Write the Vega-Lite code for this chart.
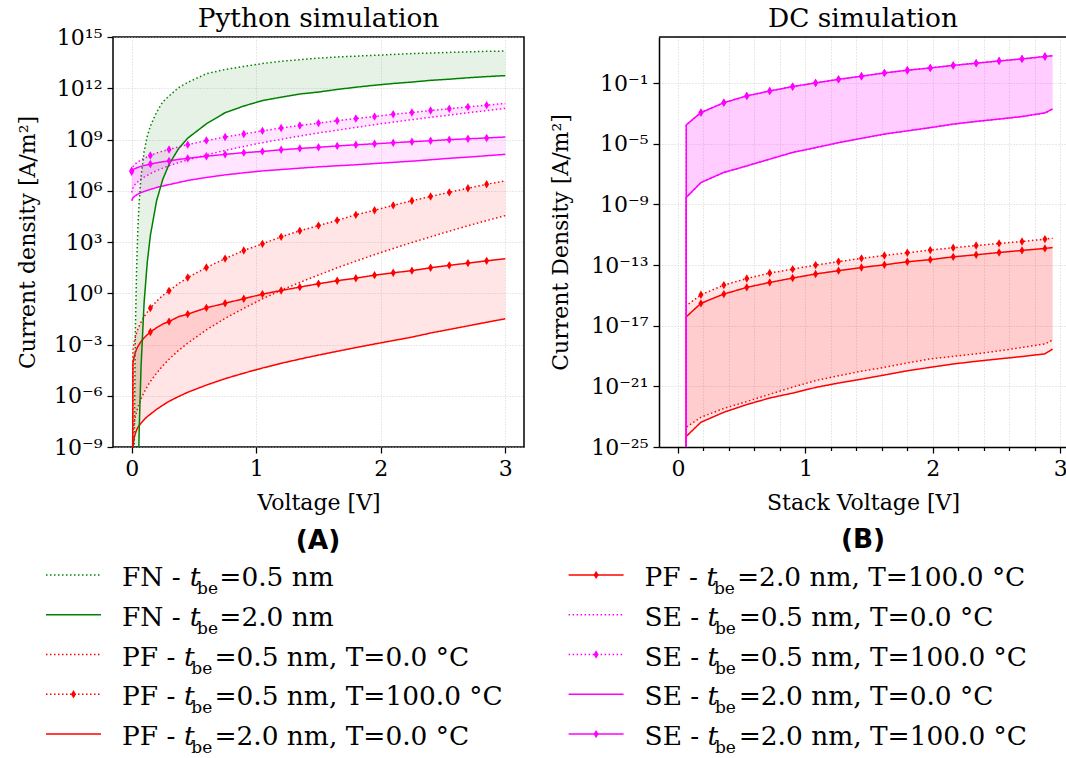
{
  "$schema": "https://vega.github.io/schema/vega-lite/v6.json",
  "background": "white",
  "padding": {"left": 15, "top": 5, "right": 0, "bottom": 0},
  "config": {
    "font": "DejaVu Serif",
    "view": {"stroke": null},
    "axis": {
      "labelFont": "DejaVu Serif", "titleFont": "DejaVu Serif",
      "labelFontSize": 22, "titleFontSize": 22, "titleFontWeight": "normal",
      "labelColor": "black", "titleColor": "black",
      "tickColor": "black", "tickWidth": 1.25, "tickSize": 6, "labelPadding": 5,
      "domainColor": "black", "domainWidth": 1.5,
      "gridColor": "#c8c8c8", "gridDash": [1, 2], "gridWidth": 0.8,
      "labelFlush": false, "labelOverlap": false, "labelBound": false
    },
    "title": {"font": "DejaVu Serif", "fontWeight": "normal", "color": "black"}
  },
  "datasets": {
    "python": [
      {"V":0,"FN_05":null,"FN_20":null,"PF05_0":1e-30,"PF05_100":1e-30,"PF20_0":1e-30,"PF20_100":1e-30,"SE05_0":7.9e5,"SE05_100":1.5e7,"SE20_0":2.6e5,"SE20_100":1.3e7},
      {"V":0.01,"FN_05":1.6e-32,"FN_20":2.5e-99,"PF05_0":7.2e-9,"PF05_100":4.4e-4,"PF20_0":1e-9,"PF20_100":8.1e-5,"SE05_0":1.5e6,"SE05_100":2.6e7,"SE20_0":3.8e5,"SE20_100":1.7e7},
      {"V":0.02,"FN_05":3.2e-10,"FN_20":2.5e-45,"PF05_0":2.6e-8,"PF05_100":1.35e-3,"PF20_0":3.5e-9,"PF20_100":2.0e-4,"SE05_0":2.0e6,"SE05_100":3.2e7,"SE20_0":4.5e5,"SE20_100":1.9e7},
      {"V":0.03,"FN_05":8.5e-3,"FN_20":3e-27,"PF05_0":6.2e-8,"PF05_100":2.8e-3,"PF20_0":6.3e-9,"PF20_100":3.5e-4,"SE05_0":2.5e6,"SE05_100":3.7e7,"SE20_0":5.1e5,"SE20_100":2.0e7},
      {"V":0.04,"FN_05":42,"FN_20":5e-18,"PF05_0":1.2e-7,"PF05_100":5.0e-3,"PF20_0":1e-8,"PF20_100":5.5e-4,"SE05_0":2.9e6,"SE05_100":4.3e7,"SE20_0":5.8e5,"SE20_100":2.2e7},
      {"V":0.05,"FN_05":7.1e3,"FN_20":1.6e-12,"PF05_0":2.1e-7,"PF05_100":8.1e-3,"PF20_0":1.4e-8,"PF20_100":7.6e-4,"SE05_0":3.4e6,"SE05_100":4.9e7,"SE20_0":6.3e5,"SE20_100":2.3e7},
      {"V":0.06,"FN_05":2.1e5,"FN_20":8.1e-9,"PF05_0":3.5e-7,"PF05_100":1.2e-2,"PF20_0":1.8e-8,"PF20_100":1.0e-3,"SE05_0":4.0e6,"SE05_100":5.5e7,"SE20_0":6.9e5,"SE20_100":2.5e7},
      {"V":0.075,"FN_05":6.5e6,"FN_20":4.6e-5,"PF05_0":6.6e-7,"PF05_100":2.0e-2,"PF20_0":2.5e-8,"PF20_100":1.5e-3,"SE05_0":4.8e6,"SE05_100":6.3e7,"SE20_0":7.8e5,"SE20_100":2.7e7},
      {"V":0.1,"FN_05":2.0e8,"FN_20":0.3,"PF05_0":1.6e-6,"PF05_100":4.3e-2,"PF20_0":4e-8,"PF20_100":2.5e-3,"SE05_0":6.3e6,"SE05_100":7.9e7,"SE20_0":9.1e5,"SE20_100":3.0e7},
      {"V":0.125,"FN_05":1.55e9,"FN_20":63,"PF05_0":3.5e-6,"PF05_100":7.9e-2,"PF20_0":6e-8,"PF20_100":3.7e-3,"SE05_0":7.9e6,"SE05_100":9.5e7,"SE20_0":1.05e6,"SE20_100":3.3e7},
      {"V":0.15,"FN_05":6.0e9,"FN_20":2.4e3,"PF05_0":6.8e-6,"PF05_100":0.135,"PF20_0":8.3e-8,"PF20_100":5.4e-3,"SE05_0":1.0e7,"SE05_100":1.15e8,"SE20_0":1.2e6,"SE20_100":3.7e7},
      {"V":0.2,"FN_05":4.0e10,"FN_20":2.6e5,"PF05_0":2.1e-5,"PF05_100":0.34,"PF20_0":1.6e-7,"PF20_100":9.6e-3,"SE05_0":1.5e7,"SE05_100":1.6e8,"SE20_0":1.55e6,"SE20_100":4.3e7},
      {"V":0.25,"FN_05":1.6e11,"FN_20":4.7e6,"PF05_0":5.7e-5,"PF05_100":0.74,"PF20_0":2.8e-7,"PF20_100":1.6e-2,"SE05_0":2.1e7,"SE05_100":2.1e8,"SE20_0":1.9e6,"SE20_100":5.0e7},
      {"V":0.3,"FN_05":3.5e11,"FN_20":3.5e7,"PF05_0":1.38e-4,"PF05_100":1.38,"PF20_0":4.7e-7,"PF20_100":2.2e-2,"SE05_0":2.9e7,"SE05_100":2.6e8,"SE20_0":2.3e6,"SE20_100":5.6e7},
      {"V":0.375,"FN_05":1.07e12,"FN_20":2.8e8,"PF05_0":4.4e-4,"PF05_100":3.6,"PF20_0":8.9e-7,"PF20_100":4.2e-2,"SE05_0":4.4e7,"SE05_100":3.7e8,"SE20_0":3.0e6,"SE20_100":6.8e7},
      {"V":0.45,"FN_05":2.2e12,"FN_20":1.2e9,"PF05_0":1.2e-3,"PF05_100":8.3,"PF20_0":1.6e-6,"PF20_100":6.0e-2,"SE05_0":6.4e7,"SE05_100":5.0e8,"SE20_0":4.0e6,"SE20_100":7.9e7},
      {"V":0.6,"FN_05":7.1e12,"FN_20":8.3e9,"PF05_0":7.2e-3,"PF05_100":32,"PF20_0":4.2e-6,"PF20_100":0.14,"SE05_0":1.26e8,"SE05_100":8.7e8,"SE20_0":6.0e6,"SE20_100":1.05e8},
      {"V":0.75,"FN_05":1.26e13,"FN_20":3.7e10,"PF05_0":3.4e-2,"PF05_100":107,"PF20_0":1e-5,"PF20_100":0.26,"SE05_0":2.3e8,"SE05_100":1.4e9,"SE20_0":8.5e6,"SE20_100":1.35e8},
      {"V":0.9,"FN_05":1.9e13,"FN_20":9.1e10,"PF05_0":0.13,"PF05_100":320,"PF20_0":2.1e-5,"PF20_100":0.48,"SE05_0":3.9e8,"SE05_100":2.1e9,"SE20_0":1.12e7,"SE20_100":1.7e8},
      {"V":1.05,"FN_05":2.8e13,"FN_20":1.9e11,"PF05_0":0.47,"PF05_100":780,"PF20_0":4.2e-5,"PF20_100":0.89,"SE05_0":6.5e8,"SE05_100":3.2e9,"SE20_0":1.45e7,"SE20_100":2.0e8},
      {"V":1.2,"FN_05":3.8e13,"FN_20":3.0e11,"PF05_0":1.5,"PF05_100":2.0e3,"PF20_0":7.9e-5,"PF20_100":1.45,"SE05_0":1.02e9,"SE05_100":4.7e9,"SE20_0":1.74e7,"SE20_100":2.5e8},
      {"V":1.35,"FN_05":4.7e13,"FN_20":4.6e11,"PF05_0":4.3,"PF05_100":4.5e3,"PF20_0":1.4e-4,"PF20_100":2.3,"SE05_0":1.6e9,"SE05_100":6.6e9,"SE20_0":2.1e7,"SE20_100":3.0e8},
      {"V":1.5,"FN_05":5.8e13,"FN_20":6.0e11,"PF05_0":11.7,"PF05_100":9.1e3,"PF20_0":2.4e-4,"PF20_100":3.6,"SE05_0":2.4e9,"SE05_100":9.1e9,"SE20_0":2.5e7,"SE20_100":3.5e8},
      {"V":1.65,"FN_05":6.8e13,"FN_20":8.5e11,"PF05_0":31,"PF05_100":1.86e4,"PF20_0":4e-4,"PF20_100":5.4,"SE05_0":3.5e9,"SE05_100":1.26e10,"SE20_0":2.9e7,"SE20_100":4.2e8},
      {"V":1.8,"FN_05":7.6e13,"FN_20":1.15e12,"PF05_0":76,"PF05_100":3.9e4,"PF20_0":6.6e-4,"PF20_100":7.6,"SE05_0":5.1e9,"SE05_100":1.7e10,"SE20_0":3.3e7,"SE20_100":4.9e8},
      {"V":1.95,"FN_05":8.5e13,"FN_20":1.5e12,"PF05_0":182,"PF05_100":7.2e4,"PF20_0":1.07e-3,"PF20_100":11.5,"SE05_0":7.4e9,"SE05_100":2.2e10,"SE20_0":3.9e7,"SE20_100":5.6e8},
      {"V":2.1,"FN_05":9.5e13,"FN_20":1.9e12,"PF05_0":420,"PF05_100":1.4e5,"PF20_0":1.7e-3,"PF20_100":15.8,"SE05_0":1.05e10,"SE05_100":3.0e10,"SE20_0":4.6e7,"SE20_100":6.5e8},
      {"V":2.25,"FN_05":1.07e14,"FN_20":2.3e12,"PF05_0":930,"PF05_100":2.6e5,"PF20_0":2.7e-3,"PF20_100":21,"SE05_0":1.45e10,"SE05_100":3.8e10,"SE20_0":5.4e7,"SE20_100":7.4e8},
      {"V":2.4,"FN_05":1.15e14,"FN_20":2.9e12,"PF05_0":2.0e3,"PF05_100":4.6e5,"PF20_0":4.7e-3,"PF20_100":31,"SE05_0":2.0e10,"SE05_100":5.0e10,"SE20_0":6.5e7,"SE20_100":8.5e8},
      {"V":2.55,"FN_05":1.26e14,"FN_20":3.4e12,"PF05_0":4.3e3,"PF05_100":8.1e5,"PF20_0":7.6e-3,"PF20_100":43,"SE05_0":2.7e10,"SE05_100":6.3e10,"SE20_0":7.9e7,"SE20_100":9.8e8},
      {"V":2.7,"FN_05":1.35e14,"FN_20":4.1e12,"PF05_0":8.9e3,"PF05_100":1.4e6,"PF20_0":1.23e-2,"PF20_100":58,"SE05_0":3.7e10,"SE05_100":8.1e10,"SE20_0":9.3e7,"SE20_100":1.1e9},
      {"V":2.85,"FN_05":1.45e14,"FN_20":4.8e12,"PF05_0":1.8e4,"PF05_100":2.4e6,"PF20_0":2e-2,"PF20_100":79,"SE05_0":4.9e10,"SE05_100":1.02e11,"SE20_0":1.12e8,"SE20_100":1.23e9},
      {"V":3.0,"FN_05":1.5e14,"FN_20":5.5e12,"PF05_0":3.5e4,"PF05_100":3.8e6,"PF20_0":3.2e-2,"PF20_100":105,"SE05_0":6.6e10,"SE05_100":1.3e11,"SE20_0":1.35e8,"SE20_100":1.4e9}
    ],
    "dc": [
      {"V":0.0649,"PF05_0":1e-30,"PF05_100":1e-30,"PF20_0":1e-30,"PF20_100":1e-30,"SE05_0":1e-30,"SE05_100":1e-30,"SE20_0":1e-30,"SE20_100":1e-30},
      {"V":0.065,"PF05_0":2.0e-24,"PF05_100":2.1e-16,"PF20_0":5.0e-25,"PF20_100":3.9e-17,"SE05_0":2.9e-9,"SE05_100":1.8e-4,"SE20_0":2.9e-9,"SE20_100":1.8e-4},
      {"V":0.18,"PF05_0":9.1e-24,"PF05_100":1.1e-15,"PF20_0":4.3e-24,"PF20_100":3.0e-16,"SE05_0":2.8e-8,"SE05_100":1.15e-3,"SE20_0":2.8e-8,"SE20_100":1.15e-3},
      {"V":0.36,"PF05_0":3.5e-23,"PF05_100":4.8e-15,"PF20_0":1.95e-23,"PF20_100":1.23e-15,"SE05_0":1.3e-7,"SE05_100":5.2e-3,"SE20_0":1.3e-7,"SE20_100":5.2e-3},
      {"V":0.54,"PF05_0":1.0e-22,"PF05_100":1.3e-14,"PF20_0":6.3e-23,"PF20_100":3.4e-15,"SE05_0":3.5e-7,"SE05_100":1.45e-2,"SE20_0":3.5e-7,"SE20_100":1.45e-2},
      {"V":0.72,"PF05_0":3.0e-22,"PF05_100":3.0e-14,"PF20_0":1.7e-22,"PF20_100":7.2e-15,"SE05_0":9.8e-7,"SE05_100":3.1e-2,"SE20_0":9.8e-7,"SE20_100":3.1e-2},
      {"V":0.9,"PF05_0":8.9e-22,"PF05_100":5.4e-14,"PF20_0":3.6e-22,"PF20_100":1.4e-14,"SE05_0":2.7e-6,"SE05_100":6.0e-2,"SE20_0":2.7e-6,"SE20_100":6.0e-2},
      {"V":1.08,"PF05_0":2.4e-21,"PF05_100":1.0e-13,"PF20_0":8.5e-22,"PF20_100":2.6e-14,"SE05_0":5.6e-6,"SE05_100":0.105,"SE20_0":5.6e-6,"SE20_100":0.105},
      {"V":1.26,"PF05_0":5.0e-21,"PF05_100":1.7e-13,"PF20_0":1.66e-21,"PF20_100":4.3e-14,"SE05_0":1.2e-5,"SE05_100":0.18,"SE20_0":1.2e-5,"SE20_100":0.18},
      {"V":1.44,"PF05_0":1.0e-20,"PF05_100":2.8e-13,"PF20_0":3.0e-21,"PF20_100":6.9e-14,"SE05_0":2.3e-5,"SE05_100":0.29,"SE20_0":2.3e-5,"SE20_100":0.29},
      {"V":1.62,"PF05_0":1.8e-20,"PF05_100":4.3e-13,"PF20_0":5.6e-21,"PF20_100":1.05e-13,"SE05_0":4.4e-5,"SE05_100":0.48,"SE20_0":4.4e-5,"SE20_100":0.48},
      {"V":1.8,"PF05_0":3.5e-20,"PF05_100":6.5e-13,"PF20_0":1.07e-20,"PF20_100":1.66e-13,"SE05_0":7.2e-5,"SE05_100":0.72,"SE20_0":7.2e-5,"SE20_100":0.72},
      {"V":1.98,"PF05_0":6.5e-20,"PF05_100":9.8e-13,"PF20_0":1.8e-20,"PF20_100":2.3e-13,"SE05_0":1.17e-4,"SE05_100":1.02,"SE20_0":1.17e-4,"SE20_100":1.02},
      {"V":2.16,"PF05_0":9.5e-20,"PF05_100":1.4e-12,"PF20_0":3.0e-20,"PF20_100":3.5e-13,"SE05_0":2.0e-4,"SE05_100":1.5,"SE20_0":2.0e-4,"SE20_100":1.5},
      {"V":2.34,"PF05_0":1.4e-19,"PF05_100":1.95e-12,"PF20_0":4.5e-20,"PF20_100":4.8e-13,"SE05_0":3.0e-4,"SE05_100":2.1,"SE20_0":3.0e-4,"SE20_100":2.1},
      {"V":2.52,"PF05_0":2.2e-19,"PF05_100":2.7e-12,"PF20_0":6.5e-20,"PF20_100":6.8e-13,"SE05_0":4.3e-4,"SE05_100":2.95,"SE20_0":4.3e-4,"SE20_100":2.95},
      {"V":2.7,"PF05_0":3.7e-19,"PF05_100":3.6e-12,"PF20_0":9.3e-20,"PF20_100":9.3e-13,"SE05_0":6.3e-4,"SE05_100":4.0,"SE20_0":6.3e-4,"SE20_100":4.0},
      {"V":2.88,"PF05_0":6.3e-19,"PF05_100":5.2e-12,"PF20_0":1.4e-19,"PF20_100":1.26e-12,"SE05_0":1.1e-3,"SE05_100":5.8,"SE20_0":1.1e-3,"SE20_100":5.8},
      {"V":2.94,"PF05_0":1.15e-18,"PF05_100":6.0e-12,"PF20_0":2.9e-19,"PF20_100":1.45e-12,"SE05_0":2.0e-3,"SE05_100":6.5,"SE20_0":2.0e-3,"SE20_100":6.5}
    ],
    "frame": [
      {"V": -0.149, "J": 112},
      {"V": 3.053, "J": 112}
    ],
    "entries": [
      {"key":"FN_05","model":"FN","rest":"=0.5 nm","i":0},
      {"key":"FN_20","model":"FN","rest":"=2.0 nm","i":1},
      {"key":"PF05_0","model":"PF","rest":"=0.5 nm, T=0.0 °C","i":2},
      {"key":"PF05_100","model":"PF","rest":"=0.5 nm, T=100.0 °C","i":3},
      {"key":"PF20_0","model":"PF","rest":"=2.0 nm, T=0.0 °C","i":4},
      {"key":"PF20_100","model":"PF","rest":"=2.0 nm, T=100.0 °C","i":5},
      {"key":"SE05_0","model":"SE","rest":"=0.5 nm, T=0.0 °C","i":6},
      {"key":"SE05_100","model":"SE","rest":"=0.5 nm, T=100.0 °C","i":7},
      {"key":"SE20_0","model":"SE","rest":"=2.0 nm, T=0.0 °C","i":8},
      {"key":"SE20_100","model":"SE","rest":"=2.0 nm, T=100.0 °C","i":9}
    ]
  },
  "vconcat": [
    {
      "hconcat": [
        {
          "title": {"text": "(A)", "orient": "bottom", "anchor": "middle", "dx": 205, "font": "DejaVu Sans", "fontWeight": "bold", "fontSize": 26.4, "baseline": "alphabetic", "offset": 35, "frame": "group"},
          "vconcat": [
            {
              "width": 411, "height": 410,
              "view": {"stroke": "black", "strokeWidth": 1.5},
              "title": {"text": "Python simulation", "fontSize": 26.4, "baseline": "alphabetic", "offset": -27.7, "frame": "group"},
              "data": {"name": "python"},
              "encoding": {
                "x": {"field": "V", "type": "quantitative", "scale": {"domain": [-0.15, 3.15], "nice": false, "zero": false},
                      "axis": {"values": [0, 1, 2, 3], "format": "d", "domain": false, "title": "Voltage [V]", "titleBaseline": "alphabetic", "titleY": 62}},
                "y": {"field": "J", "type": "quantitative", "scale": {"type": "log", "domain": [1e-9, 1e15], "nice": false},
                      "axis": {"values": [1e-9, 1e-6, 1e-3, 1, 1e3, 1e6, 1e9, 1e12, 1e15], "domain": false,
                               "labelExpr": "'10' + replace(replace(replace(replace(replace(replace(replace(replace(replace(replace(replace('' + round(log(datum.value) / LN10), regexp('-', 'g'), '⁻'), regexp('0', 'g'), '⁰'), regexp('1', 'g'), '¹'), regexp('2', 'g'), '²'), regexp('3', 'g'), '³'), regexp('4', 'g'), '⁴'), regexp('5', 'g'), '⁵'), regexp('6', 'g'), '⁶'), regexp('7', 'g'), '⁷'), regexp('8', 'g'), '⁸'), regexp('9', 'g'), '⁹')",
                               "title": "Current density [A/m²]", "titleBaseline": "alphabetic", "titleAngle": 270, "titleAlign": "center", "titleX": -79, "titleY": 205}}
              },
              "layer": [
                {"transform": [
                   {"fold": ["FN_05", "PF05_100", "PF20_100", "SE05_100", "SE20_100"], "as": ["band", "J"]},
                   {"calculate": "datum.band === 'FN_05' ? datum.FN_20 : datum.band === 'PF05_100' ? datum.PF05_0 : datum.band === 'PF20_100' ? datum.PF20_0 : datum.band === 'SE05_100' ? datum.SE05_0 : datum.SE20_0", "as": "lo"},
                   {"filter": "isValid(datum.J) && isValid(datum.lo) && datum.J > 0 && datum.lo > 0"}
                 ],
                 "mark": {"type": "area", "clip": true, "opacity": 0.1},
                 "encoding": {
                   "y2": {"field": "lo"},
                   "color": {"field": "band", "type": "nominal", "legend": null,
                             "scale": {"domain": ["FN_05","FN_20","PF05_0","PF05_100","PF20_0","PF20_100","SE05_0","SE05_100","SE20_0","SE20_100"],
                                       "range": ["#008000","#008000","#ff0000","#ff0000","#ff0000","#ff0000","#ff00ff","#ff00ff","#ff00ff","#ff00ff"]}}
                 }},
                {"transform": [
                   {"fold": ["FN_05","FN_20","PF05_0","PF05_100","PF20_0","PF20_100","SE05_0","SE05_100","SE20_0","SE20_100"], "as": ["key", "J"]},
                   {"filter": "isValid(datum.J) && datum.J > 0"}
                 ],
                 "mark": {"type": "line", "clip": true, "strokeWidth": 1.5},
                 "encoding": {
                   "color": {"field": "key", "type": "nominal", "legend": null,
                             "scale": {"domain": ["FN_05","FN_20","PF05_0","PF05_100","PF20_0","PF20_100","SE05_0","SE05_100","SE20_0","SE20_100"],
                                       "range": ["#008000","#008000","#ff0000","#ff0000","#ff0000","#ff0000","#ff00ff","#ff00ff","#ff00ff","#ff00ff"]}},
                   "strokeDash": {"field": "key", "type": "nominal", "legend": null,
                                  "scale": {"domain": ["FN_05","FN_20","PF05_0","PF05_100","PF20_0","PF20_100","SE05_0","SE05_100","SE20_0","SE20_100"],
                                            "range": [[1.5,2.5],[1,0],[1.5,2.5],[1.5,2.5],[1,0],[1,0],[1.5,2.5],[1.5,2.5],[1,0],[1,0]]}}
                 }},
                {"transform": [
                   {"fold": ["PF05_100","PF20_100","SE05_100","SE20_100"], "as": ["key", "J"]},
                   {"filter": "isValid(datum.J) && datum.J > 0 && abs(datum.V / 0.15 - round(datum.V / 0.15)) < 1e-6 && datum.V < 2.99"}
                 ],
                 "mark": {"type": "point", "clip": true, "filled": true, "opacity": 1, "size": 70, "shape": "M0,-1L0.6,0L0,1L-0.6,0Z"},
                 "encoding": {
                   "color": {"field": "key", "type": "nominal", "legend": null,
                             "scale": {"domain": ["FN_05","FN_20","PF05_0","PF05_100","PF20_0","PF20_100","SE05_0","SE05_100","SE20_0","SE20_100"],
                                       "range": ["#008000","#008000","#ff0000","#ff0000","#ff0000","#ff0000","#ff00ff","#ff00ff","#ff00ff","#ff00ff"]}}
                 }}
              ]
            }
          ]
        },
        {
          "title": {"text": "(B)", "orient": "bottom", "anchor": "middle", "dx": 204, "font": "DejaVu Sans", "fontWeight": "bold", "fontSize": 26.4, "baseline": "alphabetic", "offset": 35, "frame": "group"},
          "vconcat": [
            {
              "width": 408, "height": 410,
              "title": {"text": "DC simulation", "fontSize": 26.4, "baseline": "alphabetic", "offset": -19.7, "frame": "group"},
              "data": {"name": "dc"},
              "encoding": {
                "x": {"field": "V", "type": "quantitative", "scale": {"domain": [-0.149, 3.053], "nice": false, "zero": false},
                      "axis": {"values": [0, 0.2, 0.4, 0.6, 0.8, 1, 1.2, 1.4, 1.6, 1.8, 2, 2.2, 2.4, 2.6, 2.8, 3],
                               "labelExpr": "datum.value % 1 === 0 ? format(datum.value, 'd') : ''",
                               "tickSize": {"condition": {"test": "datum.value % 1 === 0", "value": 6}, "value": 3.5},
                               "domain": true, "title": "Stack Voltage [V]", "titleBaseline": "alphabetic", "titleY": 62}},
                "y": {"field": "J", "type": "quantitative", "scale": {"type": "log", "domain": [1e-25, 112], "nice": false},
                      "axis": {"values": [1e-25, 1e-21, 1e-17, 1e-13, 1e-9, 1e-5, 1e-1], "domain": true,
                               "labelExpr": "'10' + replace(replace(replace(replace(replace(replace(replace(replace(replace(replace(replace('' + round(log(datum.value) / LN10), regexp('-', 'g'), '⁻'), regexp('0', 'g'), '⁰'), regexp('1', 'g'), '¹'), regexp('2', 'g'), '²'), regexp('3', 'g'), '³'), regexp('4', 'g'), '⁴'), regexp('5', 'g'), '⁵'), regexp('6', 'g'), '⁶'), regexp('7', 'g'), '⁷'), regexp('8', 'g'), '⁸'), regexp('9', 'g'), '⁹')",
                               "title": "Current Density [A/m²]", "titleBaseline": "alphabetic", "titleAngle": 270, "titleAlign": "center", "titleX": -92, "titleY": 205}}
              },
              "layer": [
                {"transform": [
                   {"fold": ["PF05_100", "PF20_100", "SE05_100", "SE20_100"], "as": ["band", "J"]},
                   {"calculate": "datum.band === 'PF05_100' ? datum.PF05_0 : datum.band === 'PF20_100' ? datum.PF20_0 : datum.band === 'SE05_100' ? datum.SE05_0 : datum.SE20_0", "as": "lo"},
                   {"filter": "isValid(datum.J) && isValid(datum.lo) && datum.J > 0 && datum.lo > 0"}
                 ],
                 "mark": {"type": "area", "clip": true, "opacity": 0.1},
                 "encoding": {
                   "y2": {"field": "lo"},
                   "color": {"field": "band", "type": "nominal", "legend": null,
                             "scale": {"domain": ["FN_05","FN_20","PF05_0","PF05_100","PF20_0","PF20_100","SE05_0","SE05_100","SE20_0","SE20_100"],
                                       "range": ["#008000","#008000","#ff0000","#ff0000","#ff0000","#ff0000","#ff00ff","#ff00ff","#ff00ff","#ff00ff"]}}
                 }},
                {"transform": [
                   {"fold": ["PF05_0","PF05_100","PF20_0","PF20_100","SE05_0","SE05_100","SE20_0","SE20_100"], "as": ["key", "J"]},
                   {"filter": "isValid(datum.J) && datum.J > 0"}
                 ],
                 "mark": {"type": "line", "clip": true, "strokeWidth": 1.5},
                 "encoding": {
                   "color": {"field": "key", "type": "nominal", "legend": null,
                             "scale": {"domain": ["FN_05","FN_20","PF05_0","PF05_100","PF20_0","PF20_100","SE05_0","SE05_100","SE20_0","SE20_100"],
                                       "range": ["#008000","#008000","#ff0000","#ff0000","#ff0000","#ff0000","#ff00ff","#ff00ff","#ff00ff","#ff00ff"]}},
                   "strokeDash": {"field": "key", "type": "nominal", "legend": null,
                                  "scale": {"domain": ["FN_05","FN_20","PF05_0","PF05_100","PF20_0","PF20_100","SE05_0","SE05_100","SE20_0","SE20_100"],
                                            "range": [[1.5,2.5],[1,0],[1.5,2.5],[1.5,2.5],[1,0],[1,0],[1.5,2.5],[1.5,2.5],[1,0],[1,0]]}}
                 }},
                {"transform": [
                   {"fold": ["PF05_100","PF20_100","SE05_100","SE20_100"], "as": ["key", "J"]},
                   {"filter": "isValid(datum.J) && datum.J > 0 && abs(datum.V / 0.18 - round(datum.V / 0.18)) < 1e-6 && datum.V < 2.9"}
                 ],
                 "mark": {"type": "point", "clip": true, "filled": true, "opacity": 1, "size": 70, "shape": "M0,-1L0.6,0L0,1L-0.6,0Z"},
                 "encoding": {
                   "color": {"field": "key", "type": "nominal", "legend": null,
                             "scale": {"domain": ["FN_05","FN_20","PF05_0","PF05_100","PF20_0","PF20_100","SE05_0","SE05_100","SE20_0","SE20_100"],
                                       "range": ["#008000","#008000","#ff0000","#ff0000","#ff0000","#ff0000","#ff00ff","#ff00ff","#ff00ff","#ff00ff"]}}
                 }},
                {"data": {"name": "frame"},
                 "mark": {"type": "line", "color": "black", "strokeWidth": 1.5, "clip": false}}
              ]
            }
          ]
        }
      ],
      "spacing": 24,
      "resolve": {"scale": {"x": "independent", "y": "independent", "color": "independent", "strokeDash": "independent"}}
    },
    {
      "width": 950, "height": 199,
      "data": {"name": "entries"},
      "transform": [
        {"calculate": "floor(datum.i / 5)", "as": "col"},
        {"calculate": "datum.i % 5", "as": "row"},
        {"calculate": "datum.model + ' - '", "as": "pre"}
      ],
      "encoding": {
        "x": {"field": "col", "type": "quantitative", "scale": {"domain": [0, 1], "range": [-67, 455.6]}, "axis": null},
        "y": {"field": "row", "type": "ordinal", "scale": {"type": "point", "padding": 0.5}, "axis": null}
      },
      "layer": [
        {"mark": {"type": "rule", "x2Offset": 55, "strokeWidth": 1.5},
         "encoding": {
           "x2": {"field": "col"},
           "color": {"field": "key", "type": "nominal", "legend": null,
                     "scale": {"domain": ["FN_05","FN_20","PF05_0","PF05_100","PF20_0","PF20_100","SE05_0","SE05_100","SE20_0","SE20_100"],
                               "range": ["#008000","#008000","#ff0000","#ff0000","#ff0000","#ff0000","#ff00ff","#ff00ff","#ff00ff","#ff00ff"]}},
           "strokeDash": {"field": "key", "type": "nominal", "legend": null,
                          "scale": {"domain": ["FN_05","FN_20","PF05_0","PF05_100","PF20_0","PF20_100","SE05_0","SE05_100","SE20_0","SE20_100"],
                                    "range": [[1.5,2.5],[1,0],[1.5,2.5],[1.5,2.5],[1,0],[1,0],[1.5,2.5],[1.5,2.5],[1,0],[1,0]]}}
         }},
        {"transform": [{"filter": "indexof(datum.key, '_100') >= 0"}],
         "mark": {"type": "point", "filled": true, "opacity": 1, "size": 70, "shape": "M0,-1L0.6,0L0,1L-0.6,0Z", "xOffset": 27.5},
         "encoding": {
           "color": {"field": "key", "type": "nominal", "legend": null,
                     "scale": {"domain": ["FN_05","FN_20","PF05_0","PF05_100","PF20_0","PF20_100","SE05_0","SE05_100","SE20_0","SE20_100"],
                               "range": ["#008000","#008000","#ff0000","#ff0000","#ff0000","#ff0000","#ff00ff","#ff00ff","#ff00ff","#ff00ff"]}}
         }},
        {"mark": {"type": "text", "align": "left", "baseline": "alphabetic", "fontSize": 26.4, "dx": 76, "dy": 11},
         "encoding": {"text": {"field": "pre"}}},
        {"transform": [{"filter": "datum.model === 'FN'"}],
         "layer": [
           {"mark": {"type": "text", "align": "left", "baseline": "alphabetic", "fontSize": 26.4, "fontStyle": "italic", "dx": 143.7, "dy": 11, "text": "t"}},
           {"mark": {"type": "text", "align": "left", "baseline": "alphabetic", "fontSize": 17, "dx": 151, "dy": 19, "text": "be"}},
           {"mark": {"type": "text", "align": "left", "baseline": "alphabetic", "fontSize": 26.4, "dx": 173.3, "dy": 11}, "encoding": {"text": {"field": "rest"}}}
         ]},
        {"transform": [{"filter": "datum.model === 'PF'"}],
         "layer": [
           {"mark": {"type": "text", "align": "left", "baseline": "alphabetic", "fontSize": 26.4, "fontStyle": "italic", "dx": 138, "dy": 11, "text": "t"}},
           {"mark": {"type": "text", "align": "left", "baseline": "alphabetic", "fontSize": 17, "dx": 145.3, "dy": 19, "text": "be"}},
           {"mark": {"type": "text", "align": "left", "baseline": "alphabetic", "fontSize": 26.4, "dx": 168.4, "dy": 11}, "encoding": {"text": {"field": "rest"}}}
         ]},
        {"transform": [{"filter": "datum.model === 'SE'"}],
         "layer": [
           {"mark": {"type": "text", "align": "left", "baseline": "alphabetic", "fontSize": 26.4, "fontStyle": "italic", "dx": 139, "dy": 11, "text": "t"}},
           {"mark": {"type": "text", "align": "left", "baseline": "alphabetic", "fontSize": 17, "dx": 146.3, "dy": 19, "text": "be"}},
           {"mark": {"type": "text", "align": "left", "baseline": "alphabetic", "fontSize": 26.4, "dx": 170.1, "dy": 11}, "encoding": {"text": {"field": "rest"}}}
         ]}
      ]
    }
  ],
  "spacing": 0,
  "resolve": {"scale": {"x": "independent", "y": "independent", "color": "independent", "strokeDash": "independent"}}
}
